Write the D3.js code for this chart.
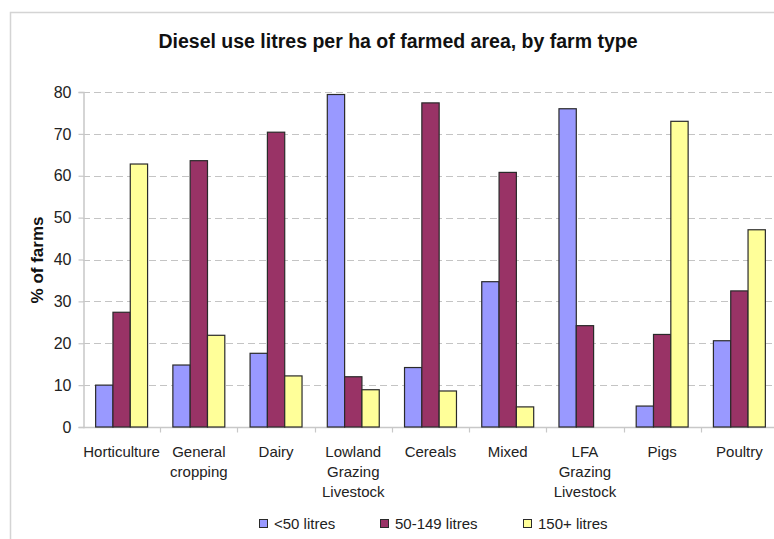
<!DOCTYPE html>
<html>
<head>
<meta charset="utf-8">
<script src="https://cdn.jsdelivr.net/npm/d3@7/dist/d3.min.js"></script>
<style>
  html, body { margin: 0; padding: 0; background: #fff; }
  svg { display: block; font-family: "Liberation Sans", Arial, sans-serif; }
</style>
</head>
<body>
<svg id="chart" width="774" height="539"></svg>
<script>
// Farm types along the x axis (line breaks mark wrapped labels)
const categories = [
  "Horticulture",
  "General\ncropping",
  "Dairy",
  "Lowland\nGrazing\nLivestock",
  "Cereals",
  "Mixed",
  "LFA\nGrazing\nLivestock",
  "Pigs",
  "Poultry"
];

// Diesel use bands
const seriesNames = ["<50 litres", "50-149 litres", "150+ litres"];
const seriesColors = ["#9999FF", "#993366", "#FFFF99"];

// % of farms in each band, per farm type
const under50 = [10.0, 14.8, 17.6, 79.4, 14.2, 34.7, 76.0, 5.0, 20.6];
const from50to149 = [27.4, 63.6, 70.4, 12.0, 77.4, 60.8, 24.2, 22.1, 32.5];
const over150 = [62.8, 21.9, 12.2, 8.9, 8.6, 4.8, 0, 73.0, 47.1];

const yTicks = [0, 10, 20, 30, 40, 50, 60, 70, 80];

const seriesValues = [under50, from50to149, over150];

const svg = d3.select("#chart");
const W = 774, H = 539;
const plot = { left: 83, right: 778, top: 92, bottom: 427 };

// Outer frame (left and top edges of the chart area)
svg.append("path")
  .attr("d", `M10.5,${H} V12.5 H${W}`)
  .attr("fill", "none")
  .attr("stroke", "#d4d4d4")
  .attr("stroke-width", 1.5);

// Title
svg.append("text")
  .attr("x", 398)
  .attr("y", 48)
  .attr("text-anchor", "middle")
  .attr("font-size", 19.5)
  .attr("font-weight", "bold")
  .attr("fill", "#111")
  .text("Diesel use litres per ha of farmed area, by farm type");

const x = d3.scaleBand()
  .domain(categories)
  .range([plot.left, plot.right])
  .paddingInner(0)
  .paddingOuter(0);

const xInner = d3.scaleBand()
  .domain(seriesNames)
  .range([0, x.bandwidth()])
  .paddingOuter(0.73)
  .paddingInner(0);

const y = d3.scaleLinear()
  .domain([0, 80])
  .range([plot.bottom, plot.top]);

// Dashed horizontal gridlines
svg.append("g")
  .selectAll("line")
  .data(yTicks.filter(d => d > 0))
  .join("line")
  .attr("x1", plot.left)
  .attr("x2", W)
  .attr("y1", d => Math.round(y(d)) + 0.5)
  .attr("y2", d => Math.round(y(d)) + 0.5)
  .attr("stroke", "#c4c4c4")
  .attr("stroke-width", 1.2)
  .attr("stroke-dasharray", "7,4");

// Y axis
const yAxis = svg.append("g")
  .attr("transform", `translate(${plot.left + 0.5},0)`)
  .call(d3.axisLeft(y).tickValues(yTicks).tickSize(5).tickPadding(7));
yAxis.select(".domain").attr("stroke", "#c8c8c8").attr("stroke-width", 1.5);
yAxis.selectAll(".tick line").attr("stroke", "#c8c8c8").attr("stroke-width", 1.2);
yAxis.selectAll(".tick text")
  .attr("font-size", 16)
  .attr("fill", "#222")
  .attr("font-family", "'Liberation Sans', Arial, sans-serif");

// Y axis title
svg.append("text")
  .attr("transform", "translate(43,260) rotate(-90)")
  .attr("text-anchor", "middle")
  .attr("font-size", 17)
  .attr("font-weight", "bold")
  .attr("fill", "#111")
  .text("% of farms");

// X axis baseline and category separators
const xAxisG = svg.append("g")
  .attr("transform", `translate(0,${plot.bottom + 0.5})`);
xAxisG.append("line")
  .attr("x1", plot.left).attr("x2", W)
  .attr("stroke", "#c8c8c8").attr("stroke-width", 1.5);
xAxisG.selectAll("line.sep")
  .data(categories.slice(1))
  .join("line")
  .attr("class", "sep")
  .attr("x1", d => Math.round(x(d)) + 0.5)
  .attr("x2", d => Math.round(x(d)) + 0.5)
  .attr("y1", 0).attr("y2", 5)
  .attr("stroke", "#c8c8c8").attr("stroke-width", 1.2);

// Category labels
const labels = svg.append("g")
  .selectAll("text")
  .data(categories)
  .join("text")
  .attr("x", d => x(d) + x.bandwidth() / 2)
  .attr("y", 457)
  .attr("text-anchor", "middle")
  .attr("font-size", 15)
  .attr("fill", "#222");
labels.each(function (d) {
  const t = d3.select(this);
  d.split("\n").forEach((line, i) => {
    t.append("tspan")
      .attr("x", x(d) + x.bandwidth() / 2)
      .attr("dy", i === 0 ? 0 : 20)
      .text(line);
  });
});

// Bars
const groups = svg.append("g")
  .selectAll("g")
  .data(categories)
  .join("g")
  .attr("transform", d => `translate(${x(d)},0)`);

groups.selectAll("rect")
  .data((d, i) => seriesNames.map((s, j) => ({ s, j, v: seriesValues[j][i] })))
  .join("rect")
  .filter(d => d.v > 0)
  .attr("x", d => xInner(d.s))
  .attr("y", d => y(d.v))
  .attr("width", xInner.bandwidth())
  .attr("height", d => y(0) - y(d.v))
  .attr("fill", d => seriesColors[d.j])
  .attr("stroke", "#2a2a2a")
  .attr("stroke-width", 1.2);

// Legend
const legendItems = [
  { name: seriesNames[0], color: seriesColors[0], x: 259 },
  { name: seriesNames[1], color: seriesColors[1], x: 380 },
  { name: seriesNames[2], color: seriesColors[2], x: 523 }
];
const legend = svg.append("g")
  .selectAll("g")
  .data(legendItems)
  .join("g")
  .attr("transform", d => `translate(${d.x},524)`);
legend.append("rect")
  .attr("x", 0.5).attr("y", -4.5)
  .attr("width", 8).attr("height", 8)
  .attr("fill", d => d.color)
  .attr("stroke", "#2a2a2a")
  .attr("stroke-width", 1);
legend.append("text")
  .attr("x", 15)
  .attr("y", 5)
  .attr("font-size", 15)
  .attr("fill", "#222")
  .text(d => d.name);
</script>
</body>
</html>
